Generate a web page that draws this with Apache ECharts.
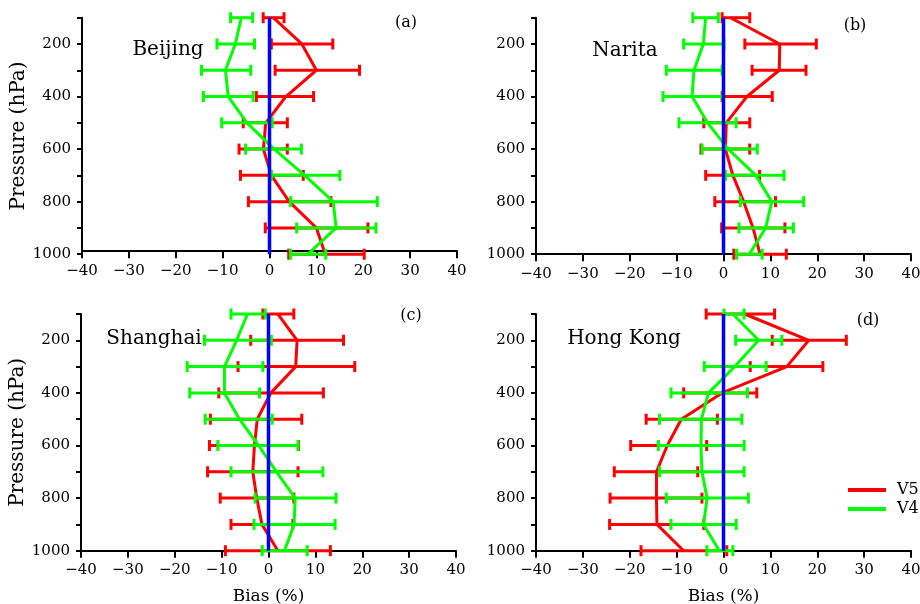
<!DOCTYPE html>
<html>
<head>
<meta charset="utf-8">
<script src="https://cdn.jsdelivr.net/npm/echarts@6/dist/echarts.min.js"></script>
<style>
html,body{margin:0;padding:0;background:#fff;}
#chart{width:920px;height:604px;}
</style>
</head>
<body>
<div id="chart"></div>
<script>
// ---- data ----
const levels = [100, 200, 300, 400, 500, 600, 700, 800, 900, 1000];
const xTicks = [-40, -30, -20, -10, 0, 10, 20, 30, 40];
const yTickLabels = [200, 400, 600, 800, 1000];
const stations = ['Beijing', 'Narita', 'Shanghai', 'Hong Kong'];
const panelTags = ['(a)', '(b)', '(c)', '(d)'];

// Beijing
const bjV5Mean = [0.8, 6.9, 10.0, 3.5, -0.8, -1.3, 0.4, 4.2, 10.0, 11.9];
const bjV5Lo   = [-1.35, 0.4, 1.2, -2.8, -5.6, -6.5, -6.2, -4.5, -0.9, 4.1];
const bjV5Hi   = [3.1, 13.5, 19.2, 9.4, 3.8, 3.8, 7.2, 13.1, 21.0, 20.2];
const bjV4Mean = [-6.0, -7.3, -9.4, -8.8, -4.8, 1.0, 7.5, 13.6, 14.2, 8.2];
const bjV4Lo   = [-8.3, -11.2, -14.5, -14.1, -10.2, -5.1, 0.4, 4.5, 5.8, 4.5];
const bjV4Hi   = [-3.6, -3.2, -4.0, -3.5, 0.6, 6.8, 15.0, 23.0, 22.7, 12.0];

// Narita
const naV5Mean = [1.5, 12.0, 11.9, 5.0, 0.6, 0.4, 2.0, 4.3, 6.3, 7.8];
const naV5Lo   = [-0.3, 4.55, 6.1, -0.3, -4.2, -4.8, -3.8, -1.85, -0.4, 2.2];
const naV5Hi   = [5.6, 19.8, 17.6, 10.4, 5.6, 5.6, 7.7, 11.1, 13.1, 13.4];
const naV4Mean = [-3.8, -4.3, -6.3, -6.7, -3.4, 1.0, 6.9, 10.3, 9.0, 5.5];
const naV4Lo   = [-6.55, -8.5, -12.2, -12.9, -9.5, -4.55, 0.4, 3.6, 3.3, 2.8];
const naV4Hi   = [-1.1, 0.1, -0.3, -0.1, 2.7, 7.2, 12.9, 17.1, 14.9, 8.25];

// Shanghai
const shV5Mean = [2.0, 6.1, 5.8, 0.5, -2.4, -3.0, -3.35, -2.5, -1.4, 2.0];
const shV5Lo   = [-1.2, -3.8, -6.5, -10.6, -12.4, -12.6, -13.0, -10.3, -8.0, -9.2];
const shV5Hi   = [5.4, 16.0, 18.4, 11.7, 7.1, 6.4, 6.3, 5.4, 5.2, 13.2];
const shV4Mean = [-4.5, -6.8, -9.4, -9.4, -6.2, -2.1, 1.7, 5.7, 5.45, 3.4];
const shV4Lo   = [-8.0, -13.65, -17.35, -16.8, -13.5, -10.8, -8.0, -2.85, -3.1, -1.35];
const shV4Hi   = [-0.7, 0.6, -1.2, -1.9, 0.8, 6.3, 11.6, 14.4, 14.2, 8.25];

// Hong Kong
const hkV5Mean = [4.5, 18.2, 13.5, -0.3, -9.0, -12.0, -14.3, -14.3, -14.2, -8.5];
const hkV5Lo   = [-3.7, 10.4, 5.7, -8.5, -16.5, -19.8, -23.3, -24.2, -24.3, -17.6];
const hkV5Hi   = [10.9, 26.2, 21.2, 7.1, -1.3, -3.6, -5.5, -4.6, -4.2, 0.7];
const hkV4Mean = [2.0, 7.5, 2.4, -3.2, -4.7, -4.8, -4.6, -3.5, -4.25, -0.9];
const hkV4Lo   = [0.1, 2.6, -4.1, -11.2, -13.65, -13.9, -13.65, -12.2, -11.2, -3.55];
const hkV4Hi   = [4.4, 12.45, 9.1, 5.1, 3.9, 4.4, 4.4, 5.3, 2.7, 2.0];

// zero reference line
const zeroBias = [0, 0];
const zeroLevels = [100, 1000];

// ---- chart ----
const FONT = 'DejaVu Serif';
const RED = '#ff0000', GREEN = '#00ff00', BLUE = '#0000ff';

const panels = [
  {v5: [bjV5Mean, bjV5Lo, bjV5Hi], v4: [bjV4Mean, bjV4Lo, bjV4Hi]},
  {v5: [naV5Mean, naV5Lo, naV5Hi], v4: [naV4Mean, naV4Lo, naV4Hi]},
  {v5: [shV5Mean, shV5Lo, shV5Hi], v4: [shV4Mean, shV4Lo, shV4Hi]},
  {v5: [hkV5Mean, hkV5Lo, hkV5Hi], v4: [hkV4Mean, hkV4Lo, hkV4Hi]}
];

const grids = [
  {left: 82, top: 17.7, width: 375, height: 236.5},
  {left: 536, top: 17.7, width: 375, height: 236.5},
  {left: 81, top: 314, width: 375, height: 236.7},
  {left: 536, top: 314, width: 375, height: 236.7}
];

function errRender(color) {
  return function (params, api) {
    const p = api.value(0), lo = api.value(1), hi = api.value(2);
    const a = api.coord([lo, p]), b = api.coord([hi, p]);
    const h = 5.5;
    const st = {stroke: color, lineWidth: 3};
    return {type: 'group', children: [
      {type: 'line', shape: {x1: a[0], y1: a[1], x2: b[0], y2: b[1]}, style: st},
      {type: 'line', shape: {x1: a[0], y1: a[1] - h, x2: a[0], y2: a[1] + h}, style: st},
      {type: 'line', shape: {x1: b[0], y1: b[1] - h, x2: b[0], y2: b[1] + h}, style: st}
    ]};
  };
}

const axisLineStyle = {color: '#000', width: 2};
const xAxes = [], yAxes = [], series = [];
grids.forEach((g, i) => {
  g.outerBoundsMode = 'none';
  g.containLabel = false;
  xAxes.push({
    gridIndex: i, type: 'value', min: xTicks[0], max: xTicks[xTicks.length - 1], interval: 10,
    offset: i === 0 ? -3 : 0,
    axisLine: {show: true, onZero: false, lineStyle: axisLineStyle},
    axisTick: {show: true, inside: false, length: 7, lineStyle: axisLineStyle},
    splitLine: {show: false},
    axisLabel: {margin: 12, fontFamily: FONT, fontSize: 15, color: '#000',
      formatter: v => String(v).replace('-', '\u2212')},
    name: i >= 2 ? 'Bias (%)' : '', nameLocation: 'middle', nameGap: 37,
    nameTextStyle: {fontFamily: FONT, fontSize: 17, color: '#000'}
  });
  yAxes.push({
    gridIndex: i, type: 'value', min: 100, max: 1000, interval: 100, inverse: true,
    axisLine: {show: true, onZero: false, lineStyle: axisLineStyle},
    axisTick: {show: true, inside: false, length: 5, lineStyle: axisLineStyle},
    splitLine: {show: false},
    axisLabel: {margin: 11, fontFamily: FONT, fontSize: 15, color: '#000',
      formatter: v => yTickLabels.indexOf(v) >= 0 ? String(v) : ''},
    name: (i === 0 || i === 2) ? 'Pressure (hPa)' : '', nameLocation: 'middle', nameGap: 45,
    nameRotate: 90,
    nameTextStyle: {fontFamily: FONT, fontSize: 20, color: '#000'}
  });
  const P = panels[i];
  series.push({
    name: 'V5 err', type: 'custom', xAxisIndex: i, yAxisIndex: i, z: 2,
    renderItem: errRender(RED), encode: {x: [1, 2], y: 0},
    data: levels.map((p, k) => [p, P.v5[1][k], P.v5[2][k]]), silent: true
  });
  series.push({
    name: 'V5', type: 'line', xAxisIndex: i, yAxisIndex: i, z: 3,
    showSymbol: false, symbol: 'none',
    lineStyle: {color: RED, width: 3}, itemStyle: {color: RED},
    data: levels.map((p, k) => [P.v5[0][k], p])
  });
  series.push({
    name: 'V4 err', type: 'custom', xAxisIndex: i, yAxisIndex: i, z: 4,
    renderItem: errRender(GREEN), encode: {x: [1, 2], y: 0},
    data: levels.map((p, k) => [p, P.v4[1][k], P.v4[2][k]]), silent: true
  });
  series.push({
    name: 'V4', type: 'line', xAxisIndex: i, yAxisIndex: i, z: 5,
    showSymbol: false, symbol: 'none',
    lineStyle: {color: GREEN, width: 3}, itemStyle: {color: GREEN},
    data: levels.map((p, k) => [P.v4[0][k], p])
  });
  series.push({
    name: 'zero', type: 'line', xAxisIndex: i, yAxisIndex: i, z: 6,
    showSymbol: false, symbol: 'none', silent: true,
    lineStyle: {color: BLUE, width: 3.5}, itemStyle: {color: BLUE},
    data: zeroBias.map((b, k) => [b, zeroLevels[k]])
  });
});

const textPos = [
  {name: [168, 50], tag: [406, 23]},
  {name: [625, 51], tag: [855, 26]},
  {name: [154, 339], tag: [411, 316]},
  {name: [624, 339], tag: [868, 321]}
];
const graphics = [];
textPos.forEach((t, i) => {
  graphics.push({type: 'text', x: t.name[0], y: t.name[1], z: 10,
    style: {text: stations[i], font: '20px "' + FONT + '"', fill: '#000', align: 'center', verticalAlign: 'middle'}});
  graphics.push({type: 'text', x: t.tag[0], y: t.tag[1], z: 10,
    style: {text: panelTags[i], font: '16px "' + FONT + '"', fill: '#000', align: 'center', verticalAlign: 'middle'}});
});

const chart = echarts.init(document.getElementById('chart'), null, {renderer: 'canvas'});
chart.setOption({
  animation: false,
  backgroundColor: '#fff',
  grid: grids,
  xAxis: xAxes,
  yAxis: yAxes,
  legend: {
    data: ['V5', 'V4'], orient: 'vertical', left: 843, top: 477,
    icon: 'rect', itemWidth: 38, itemHeight: 4, itemGap: 3,
    textStyle: {fontFamily: FONT, fontSize: 16, color: '#000', padding: [0, 0, 0, 6]}
  },
  graphic: graphics,
  series: series
});
</script>
</body>
</html>
